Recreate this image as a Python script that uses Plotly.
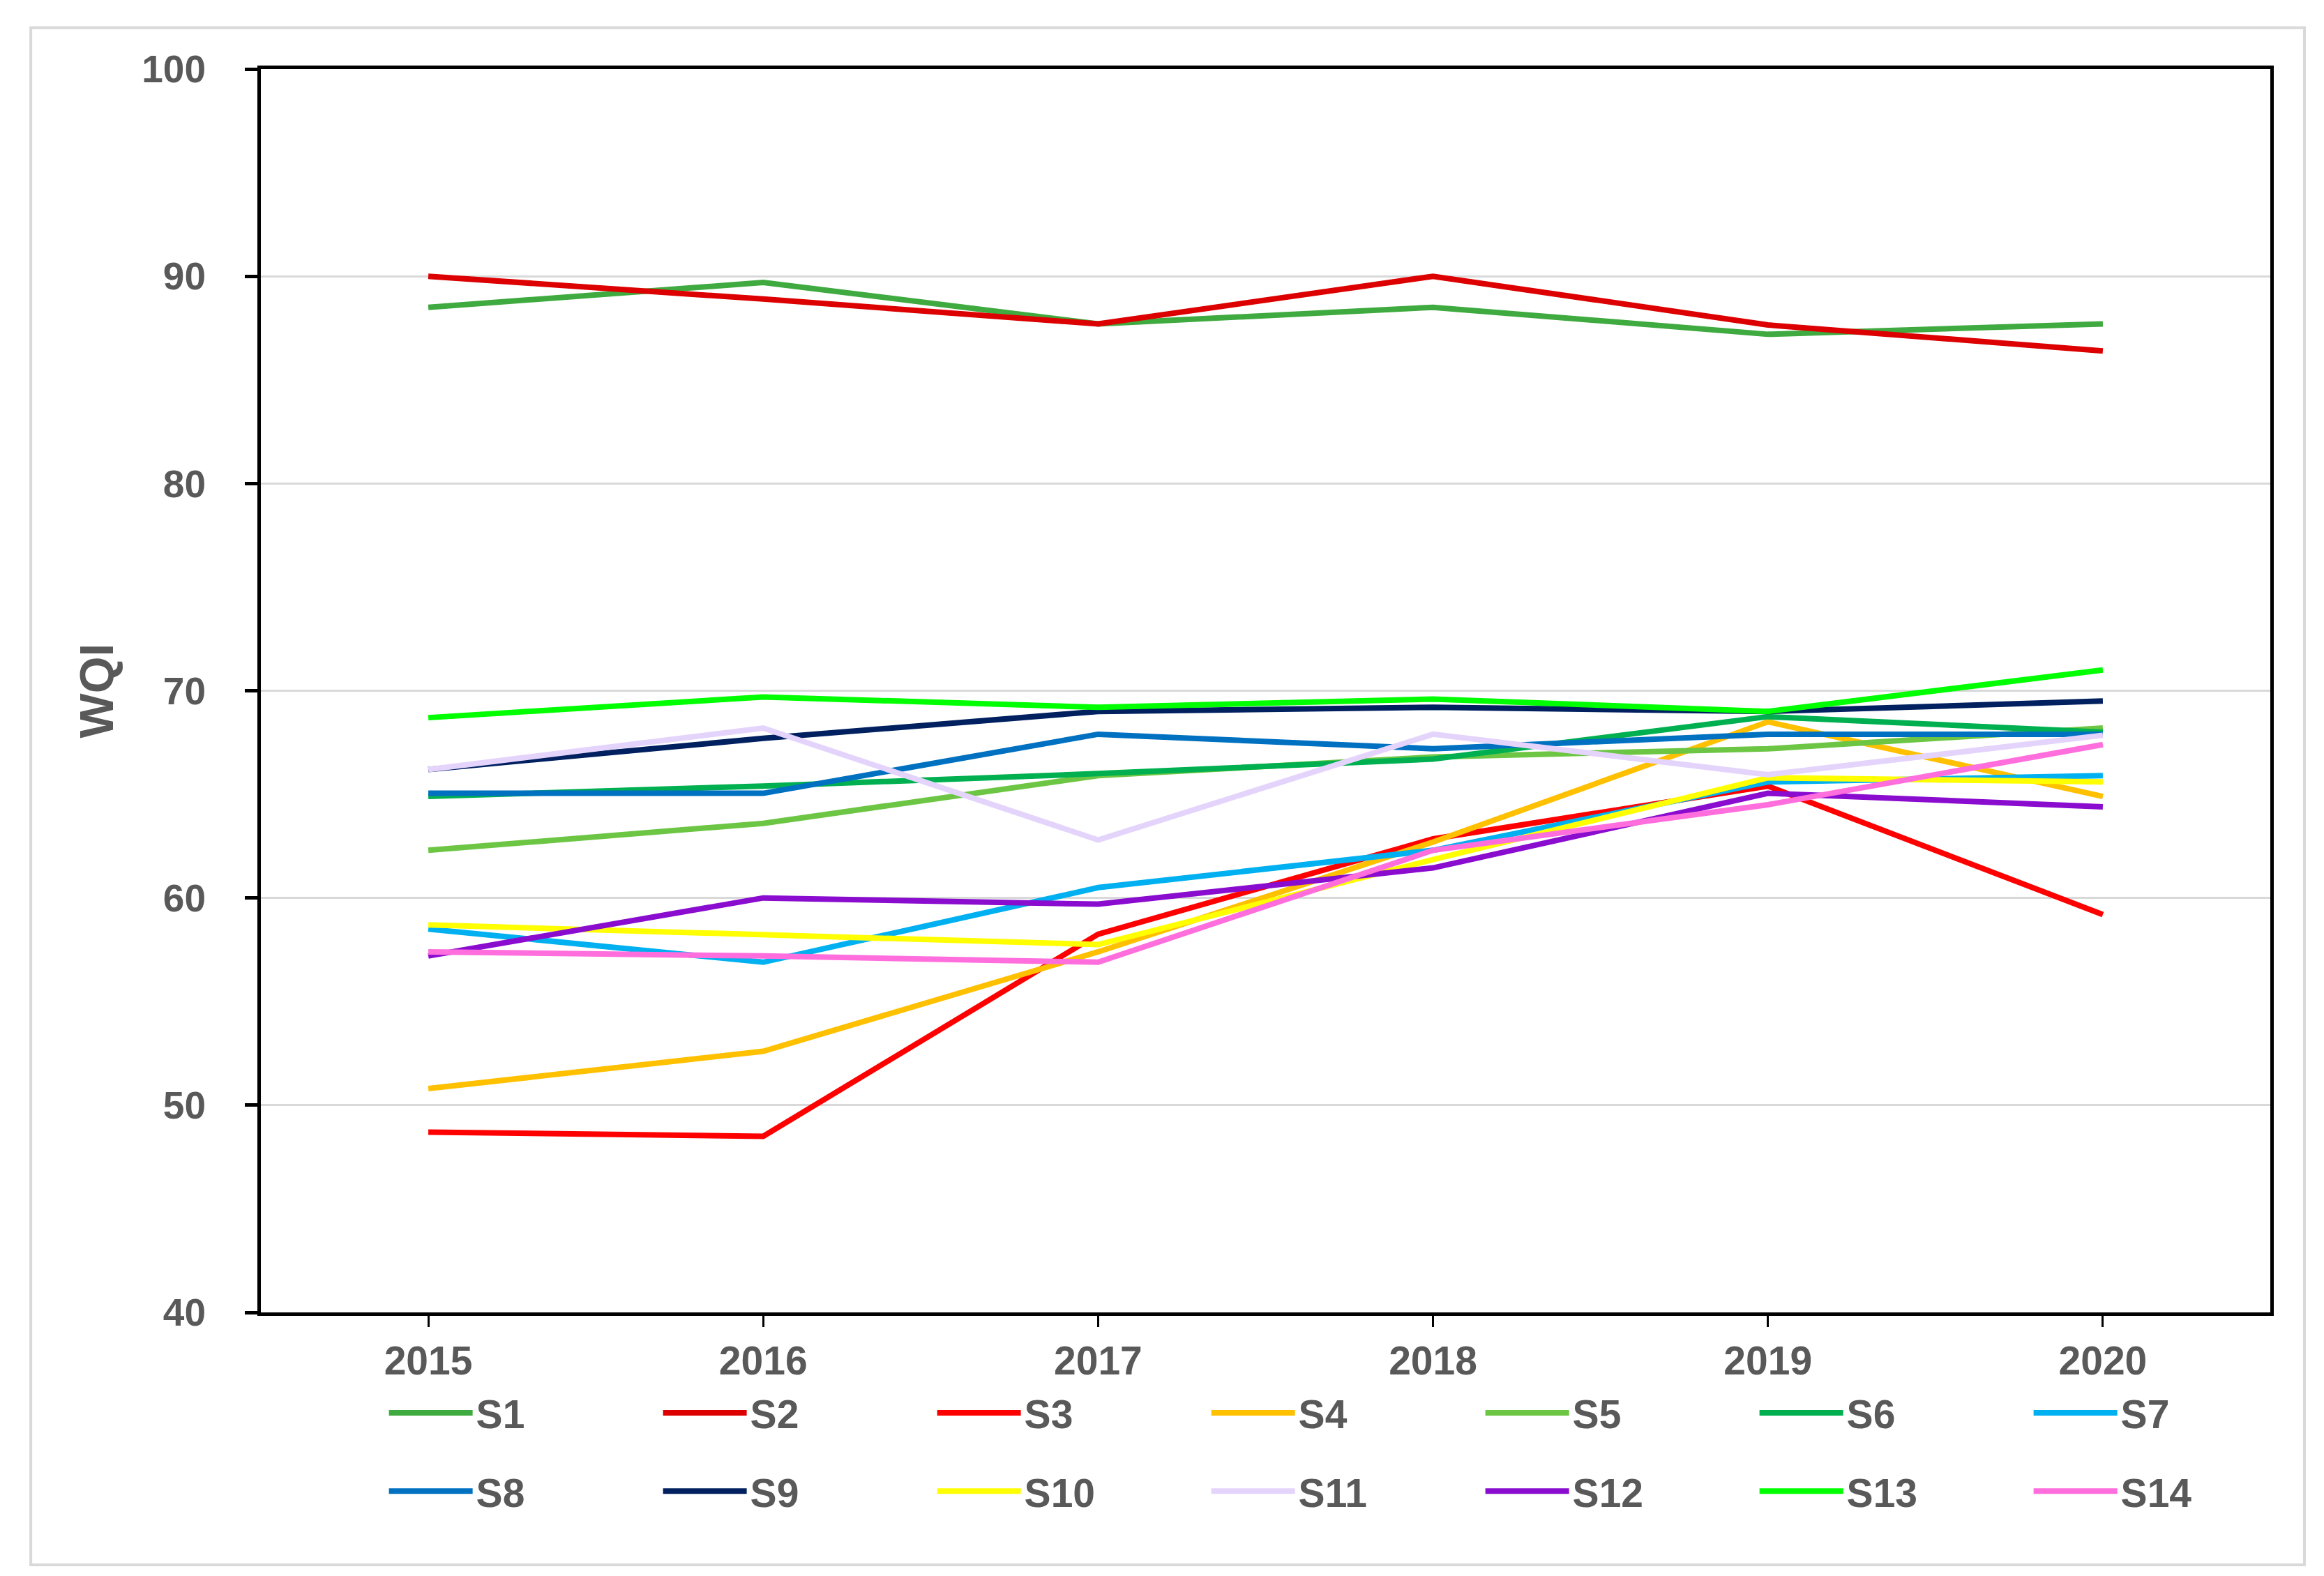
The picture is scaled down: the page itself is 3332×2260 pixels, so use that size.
import plotly.graph_objects as go

years = ["2015", "2016", "2017", "2018", "2019", "2020"]

S1 = [88.5, 89.7, 87.7, 88.5, 87.2, 87.7]
S2 = [90.0, 88.9, 87.7, 90.0, 87.65, 86.4]
S3 = [48.7, 48.5, 58.25, 62.85, 65.4, 59.2]
S4 = [50.8, 52.6, 57.4, 62.7, 68.5, 64.9]
S5 = [62.3, 63.6, 65.9, 66.8, 67.2, 68.2]
S6 = [64.9, 65.4, 66.0, 66.7, 68.75, 68.0]
S7 = [58.5, 56.9, 60.5, 62.3, 65.6, 65.9]
S8 = [65.05, 65.05, 67.9, 67.2, 67.9, 67.9]
S9 = [66.2, 67.7, 69.0, 69.2, 69.0, 69.5]
S10 = [58.7, 58.2, 57.75, 61.85, 65.8, 65.6]
S11 = [66.2, 68.2, 62.8, 67.9, 65.95, 67.85]
S12 = [57.2, 60.0, 59.7, 61.45, 65.05, 64.4]
S13 = [68.7, 69.7, 69.2, 69.6, 69.0, 71.0]
S14 = [57.4, 57.2, 56.9, 62.3, 64.5, 67.4]

names = ["S1", "S2", "S3", "S4", "S5", "S6", "S7",
         "S8", "S9", "S10", "S11", "S12", "S13", "S14"]
series = [S1, S2, S3, S4, S5, S6, S7, S8, S9, S10, S11, S12, S13, S14]
colors = ["#3FAA3F", "#DD0000", "#FF0000", "#FFC000", "#6CC644", "#00B050", "#00B0F0",
          "#0070C0", "#002060", "#FFFF00", "#E4D4FC", "#8A0CCF", "#00FF00", "#FF6EDC"]

FONT = "Liberation Sans, Arial, sans-serif"
GRAY = "#595959"

fig = go.Figure()
for i, (n, s, c) in enumerate(zip(names, series, colors)):
    fig.add_trace(go.Scatter(
        x=years, y=s, name=n, mode="lines",
        line=dict(color=c, width=8),
        legend="legend" if i < 7 else "legend2",
    ))

legend_common = dict(
    orientation="h",
    xanchor="left",
    yanchor="middle",
    x=0.062,
    font=dict(family=FONT, size=57, color=GRAY, weight="bold"),
    entrywidth=258,
    entrywidthmode="pixels",
    itemwidth=120,
    bgcolor="rgba(0,0,0,0)",
)

fig.update_layout(
    width=3332, height=2260,
    margin=dict(l=366, r=85, t=91, b=386),
    paper_bgcolor="white",
    plot_bgcolor="white",
    showlegend=True,
    legend=dict(y=-0.081, **legend_common),
    legend2=dict(y=-0.144, **legend_common),
    xaxis=dict(
        type="category",
        range=[-0.5, 5.5],
        showline=True, linecolor="black", linewidth=5, mirror=True,
        ticks="outside", ticklen=16, tickwidth=3, tickcolor="black",
        tickfont=dict(family=FONT, size=57, color=GRAY, weight="bold"),
        ticklabelstandoff=0,
        showgrid=False,
    ),
    yaxis=dict(
        range=[40, 100],
        dtick=10,
        showline=True, linecolor="black", linewidth=5, mirror=True,
        ticks="outside", ticklen=18, tickwidth=5, tickcolor="black",
        tickfont=dict(family=FONT, size=55, color=GRAY, weight="bold"),
        ticklabelstandoff=45,
        showgrid=True, gridcolor="#D9D9D9", gridwidth=3,
        zeroline=False,
        title=dict(text="WQI", font=dict(family=FONT, size=68, color=GRAY, weight="bold"),
                   standoff=20),
    ),
)

fig.add_shape(type="rect", xref="paper", yref="paper",
              x0=-0.1145, x1=1.017, y0=-0.203, y1=1.0333,
              line=dict(color="#D9D9D9", width=4), fillcolor="rgba(0,0,0,0)", layer="below")

fig.write_html("out.html")
